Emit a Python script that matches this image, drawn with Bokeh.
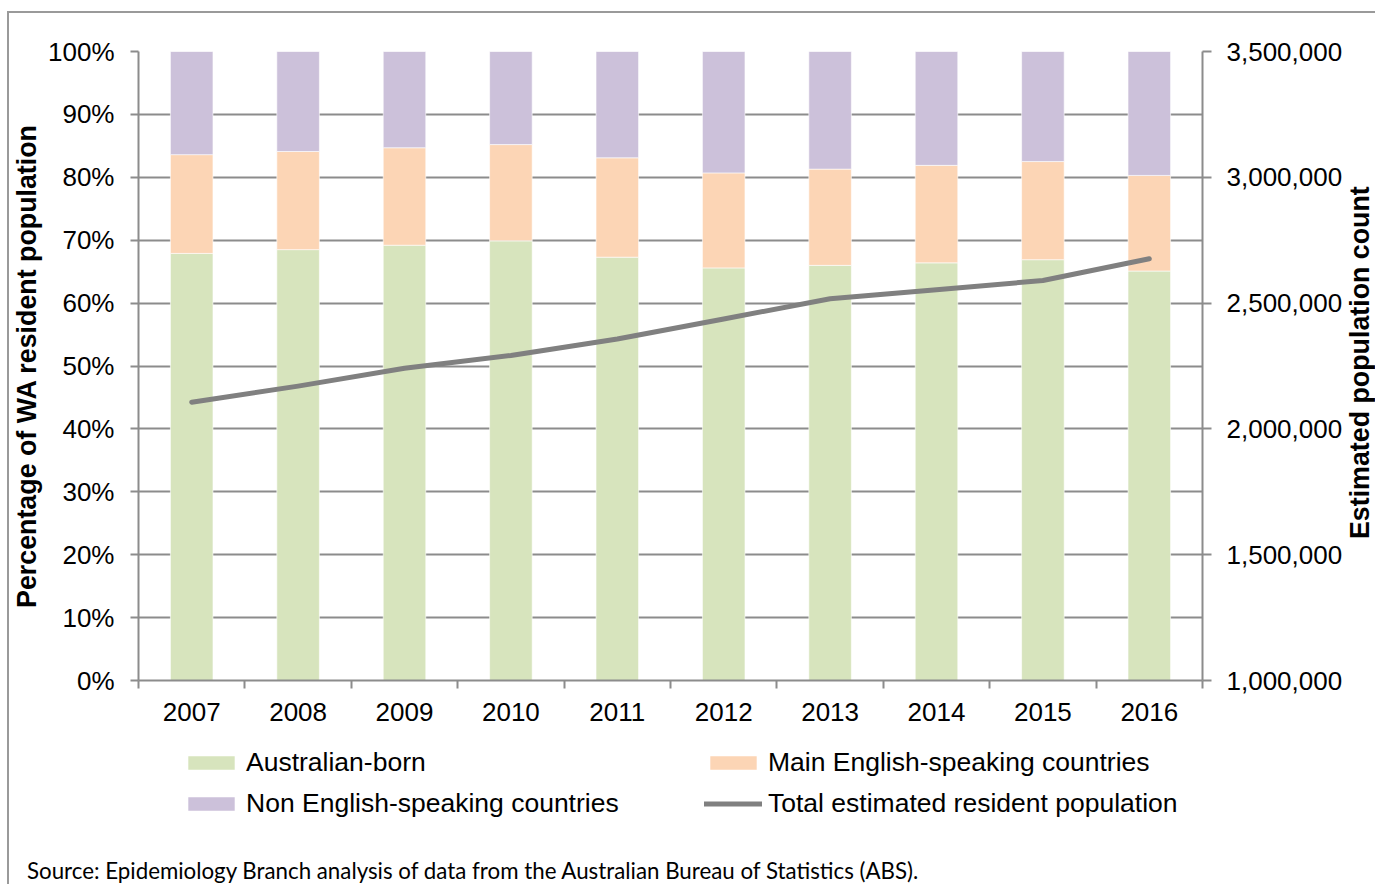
import math
from bokeh.plotting import figure
from bokeh.layouts import column
from bokeh.models import (Range1d, LinearAxis, FixedTicker, PrintfTickFormatter,
                          NumeralTickFormatter, Legend, LegendItem, Div,
                          ColumnDataSource, GlobalInlineStyleSheet)
from bokeh.embed import file_html
from bokeh.resources import INLINE

# ---- data ----
years = ["2007", "2008", "2009", "2010", "2011", "2012", "2013", "2014", "2015", "2016"]
australian_born = [67.9, 68.5, 69.2, 69.9, 67.3, 65.6, 66.0, 66.4, 66.9, 65.1]
main_english = [15.7, 15.6, 15.5, 15.3, 15.8, 15.1, 15.3, 15.5, 15.6, 15.2]
non_english = [16.4, 15.9, 15.3, 14.8, 16.9, 19.3, 18.7, 18.1, 17.5, 19.7]
total_population = [2106000, 2170000, 2241000, 2292000, 2357000,
                     2437000, 2517000, 2553000, 2590000, 2676000]
series_names = ["Australian-born", "Main English-speaking countries",
                "Non English-speaking countries"]
line_name = "Total estimated resident population"
left_title = "Percentage of WA resident population"
right_title = "Estimated population count"
pct_ticks = [0, 10, 20, 30, 40, 50, 60, 70, 80, 90, 100]
pop_ticks = [1000000, 1500000, 2000000, 2500000, 3000000, 3500000]
source_note = "Source: Epidemiology Branch analysis of data from the Australian Bureau of Statistics (ABS)."

FONT = "Liberation Sans"
GREY = "#8c8c8c"
colors = ["#D7E4BD", "#FCD5B5", "#CCC1DA"]
LINE_COLOR = "#808080"

n = len(years)
xs = [i + 0.5 for i in range(n)]
source = ColumnDataSource(dict(x=xs, australian_born=australian_born,
                               main_english=main_english, non_english=non_english,
                               population=total_population))

# page geometry (pixels)
FL, FR, FT, FB = 138, 1202, 51, 680     # plot frame
RIGHT = 192                              # right border (axis + title)
W = FL + (FR - FL) + RIGHT
H1 = 744                                 # main plot height
H2 = 830 - 744                           # legend strip
H3 = 884 - 830                           # source note strip

p = figure(width=W, height=H1, x_range=Range1d(0, n), y_range=Range1d(0, 100),
           output_backend="svg", toolbar_location=None,
           min_border_left=FL, min_border_right=RIGHT,
           min_border_top=FT, min_border_bottom=H1 - FB,
           background_fill_color="white", border_fill_color=None)
p.outline_line_color = None
p.extra_y_ranges = {"pop": Range1d(pop_ticks[0], pop_ticks[-1])}

bars = p.vbar_stack(["australian_born", "main_english", "non_english"], x="x",
                    width=0.4, source=source, fill_color=colors,
                    line_color="white", line_width=0.6)
line = p.line("x", "population", source=source, y_range_name="pop",
              line_color=LINE_COLOR, line_width=5, line_cap="round", line_join="round")

xa = p.xaxis[0]
xa.ticker = FixedTicker(ticks=xs, minor_ticks=list(range(n + 1)))
xa.major_label_overrides = {x: y for x, y in zip(xs, years)}
xa.major_tick_out = 0
xa.major_tick_in = 0
xa.minor_tick_out = 8
xa.minor_tick_in = 0
xa.major_label_standoff = 14

ya = p.yaxis[0]
ya.ticker = FixedTicker(ticks=pct_ticks)
ya.formatter = PrintfTickFormatter(format="%d%%")
ya.major_tick_out = 8
ya.major_tick_in = 0
ya.minor_tick_out = 0
ya.minor_tick_in = 0
ya.major_label_standoff = 16
ya.axis_label = left_title
ya.axis_label_standoff = 3

ra = LinearAxis(y_range_name="pop", ticker=FixedTicker(ticks=pop_ticks),
                formatter=NumeralTickFormatter(format="0,0"))
ra.major_tick_out = 9
ra.major_tick_in = 0
ra.minor_tick_out = 0
ra.minor_tick_in = 0
ra.major_label_standoff = 15
ra.axis_label_standoff = 15
props = ra.properties()
if "axis_label_orientation" in props and "axis_label_align" in props:
    # rotated to read bottom-to-top; the label starts at the axis start, so
    # non-breaking spaces move it up to the middle of the axis
    ra.axis_label_orientation = math.pi / 2
    ra.axis_label_align = "start"
    ra.axis_label = "\u00a0" * 19 + right_title
else:
    ra.axis_label = right_title
p.add_layout(ra, "right")

for ax in (xa, ya, ra):
    ax.axis_line_color = GREY
    ax.axis_line_width = 2
    ax.major_tick_line_color = GREY
    ax.major_tick_line_width = 2
    ax.minor_tick_line_color = GREY
    ax.minor_tick_line_width = 2
    ax.major_label_text_font = FONT
    ax.major_label_text_font_size = "26px"
    ax.major_label_text_color = "black"
    ax.axis_label_text_font = FONT
    ax.axis_label_text_font_size = "26.8px"
    ax.axis_label_text_font_style = "bold"
    ax.axis_label_text_color = "black"

p.xgrid.visible = False
p.ygrid.grid_line_color = GREY
p.ygrid.grid_line_width = 2

# ---- legend strip (coordinates = page pixels) ----
q = figure(width=W, height=H2, x_range=Range1d(FL, FR), y_range=Range1d(830, 744),
           output_backend="svg", toolbar_location=None,
           x_axis_type=None, y_axis_type=None,
           min_border_left=FL, min_border_right=RIGHT, min_border_top=0,
           min_border_bottom=0, background_fill_color=None, border_fill_color=None)
q.outline_line_color = None
q.xgrid.visible = False
q.ygrid.visible = False

# legend-only renderers (hidden), styled like the series in the main plot
kb = [q.vbar(x="x", top=name, width=0.4, source=source, fill_color=c, line_color=None,
             visible=False)
      for name, c in zip(["australian_born", "main_english", "non_english"], colors)]
kl = q.line(x="x", y="population", source=source, line_color=LINE_COLOR, line_width=5,
            line_cap="round", visible=False)

def make_legend(items, left_px):
    return Legend(items=items, location=(left_px - FL, 11.5),
                  orientation="vertical",
                  glyph_width=58, glyph_height=17, label_height=30, spacing=10,
                  label_standoff=6, padding=0, margin=0,
                  label_text_font=FONT, label_text_font_size="26.5px",
                  label_text_color="black", border_line_color=None,
                  background_fill_alpha=0, inactive_fill_alpha=0)

q.add_layout(make_legend([LegendItem(label=series_names[0], renderers=[kb[0]]),
                          LegendItem(label=series_names[2], renderers=[kb[2]])], 182), "center")
q.add_layout(make_legend([LegendItem(label=series_names[1], renderers=[kb[1]]),
                          LegendItem(label=line_name, renderers=[kl])], 704), "center")

# ---- source note ----
note = Div(text=('<div style="font-family: Lato; font-size: 22.3px; line-height: normal; '
                 'color: black; padding-top: 27px; padding-left: 27px; white-space: nowrap;">'
                 + source_note + '</div>'),
           width=1375, height=H3, margin=0)

frame_css = ("linear-gradient(#9a9a9a,#9a9a9a) 7px 11px / 2px 100% no-repeat, "
             "linear-gradient(#9a9a9a,#9a9a9a) 7px 11px / 100% 2px no-repeat, white")

layout = column(p, q, note, spacing=0, margin=0, styles={"background": frame_css},
                stylesheets=[GlobalInlineStyleSheet(css="html, body { overflow: hidden; margin: 0; }")])

open("out.html", "w").write(file_html(layout, INLINE))
